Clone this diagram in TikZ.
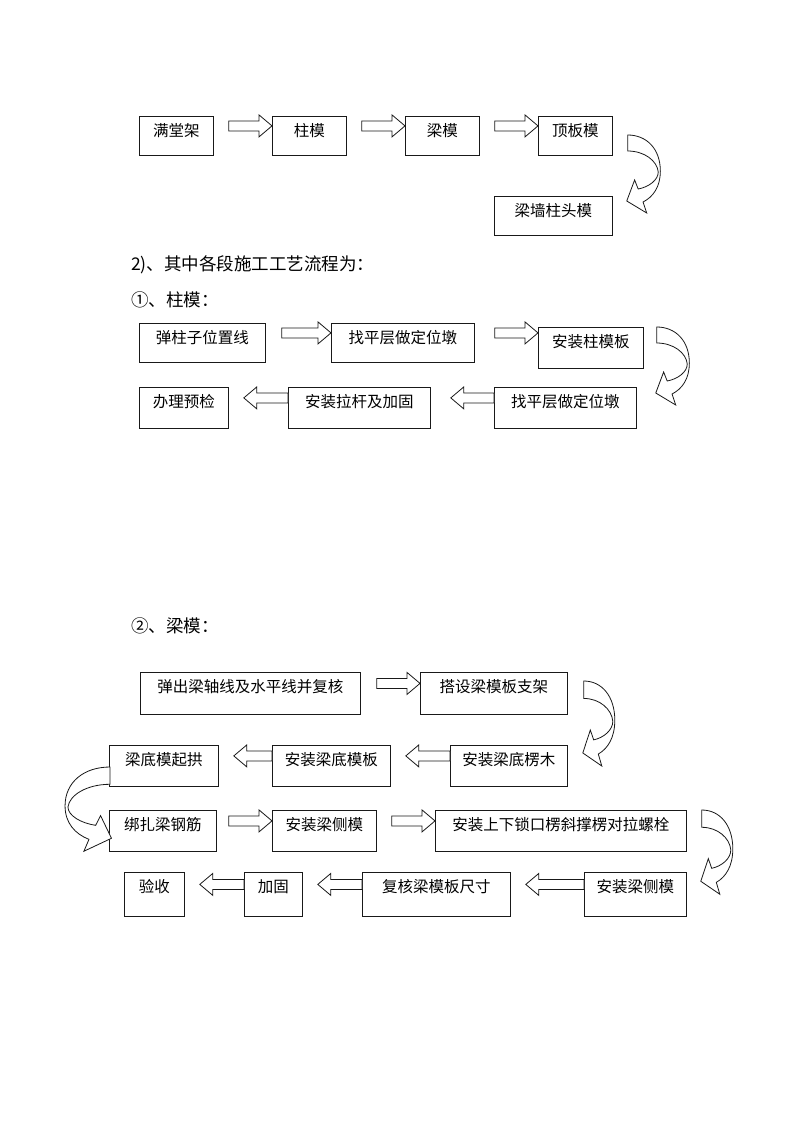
\documentclass[tikz,border=0pt]{standalone}
\usepackage{fontspec}
\newfontfamily\cjk{Noto Sans CJK SC}
\usepackage{tikz}
\usetikzlibrary{calc}

% hollow block arrow, tail #1 after #2, tip on #3
\newcommand{\rarrow}[3][15]{%
  \coordinate (s) at ($(#2.east)+(#1,-10)$);
  \coordinate (e) at (s -| #3.west);
  \draw[blockarrow] ($(s)+(0,-5)$) -- ($(e)+(-13,-5)$) -- ($(e)+(-13,-11)$) -- (e)
    -- ($(e)+(-13,11)$) -- ($(e)+(-13,5)$) -- ($(s)+(0,5)$) -- cycle;}
% same to the left, tail on #2, tip #1 before #3
\newcommand{\larrow}[3][15]{%
  \coordinate (s) at ($(#2.west)+(0,-10)$);
  \coordinate (e) at ($(s -| #3.east)+(#1,0)$);
  \draw[blockarrow] ($(s)+(0,-5)$) -- ($(e)+(13,-5)$) -- ($(e)+(13,-11)$) -- (e)
    -- ($(e)+(13,11)$) -- ($(e)+(13,5)$) -- ($(s)+(0,5)$) -- cycle;}

\begin{document}
\begin{tikzpicture}[x=1pt, y=-1pt,
    box/.style={draw=black!90, line width=0.8pt, anchor=north west, inner sep=0pt,
                font=\cjk\fontsize{15.5}{18}\selectfont, text height=20pt, text depth=#1},
    box/.default=19pt,
    head/.style={anchor=west, inner sep=0pt, font=\cjk\fontsize{17.5}{20}\selectfont},
    blockarrow/.style={draw=black!90, line width=0.8pt, fill=white, line join=miter},
    bendarrow/.pic={
      \draw[blockarrow] (0,0) .. controls (18,0) and (31,14) .. (31,36)
        .. controls (31,52) and (24,62) .. (14.5,67)
        -- (18,78) -- (-1,66) -- (6.5,45) -- (9.9,54)
        .. controls (20,52) and (29,45) .. (29,37)
        .. controls (28,26) and (16,16) .. (0,16) -- cycle;
    },
  ]
  \useasboundingbox[fill=white] (0,0) rectangle (800,1132);

  % overall order
  \node[box, minimum width=74pt] (a1) at (139,116) {满堂架};
  \node[box, minimum width=74pt] (a2) at (272,116) {柱模};
  \node[box, minimum width=74pt] (a3) at (405,116) {梁模};
  \node[box, minimum width=74pt] (a4) at (538,116) {顶板模};
  \node[box, minimum width=118pt] (a5) at (494,196) {梁墙柱头模};
  \rarrow{a1}{a2}
  \rarrow{a2}{a3}
  \rarrow{a3}{a4}
  \pic[xscale=1.05] at ($(a4.north east)+(15,19)$) {bendarrow};

  \node[head] (h1) at (131,265) {2)、其中各段施工工艺流程为：};
  \node[head] (h2) at (131,300) {①、柱模：};

  % column forms
  \node[box, minimum width=126pt] (b1) at (139,323) {弹柱子位置线};
  \node[box, minimum width=143pt] (b2) at (331,323) {找平层做定位墩};
  \node[box=21pt, minimum width=105pt] (b3) at (538,327) {安装柱模板};
  \node[box=21pt, minimum width=142pt] (b4) at (494,387) {找平层做定位墩};
  \node[box=21pt, minimum width=142pt] (b5) at (288,387) {安装拉杆及加固};
  \node[box=21pt, minimum width=89pt] (b6) at (139,387) {办理预检};
  \rarrow[16]{b1}{b2}
  \rarrow[20]{b2}{b3}
  \pic[xscale=1.05] at ($(b3.north east)+(13,0)$) {bendarrow};
  \larrow[20]{b4}{b5}
  \larrow{b5}{b6}

  \node[head] (h3) at (131,626) {②、梁模：};

  % beam forms
  \node[box=22pt, minimum width=220pt] (c1) at (140,672) {弹出梁轴线及水平线并复核};
  \node[box=22pt, minimum width=147pt] (c2) at (420,672) {搭设梁模板支架};
  \node[box=21pt, minimum width=117pt] (d3) at (450,745) {安装梁底楞木};
  \node[box=21pt, minimum width=118pt] (d2) at (272,745) {安装梁底模板};
  \node[box=21pt, minimum width=109pt] (d1) at (109,745) {梁底模起拱};
  \node[box=21pt, minimum width=107pt] (e1) at (109,810) {绑扎梁钢筋};
  \node[box=21pt, minimum width=104pt] (e2) at (272,810) {安装梁侧模};
  \node[box=21pt, minimum width=251pt] (e3) at (435,810) {安装上下锁口楞斜撑楞对拉螺栓};
  \node[box=24pt, minimum width=102pt] (f4) at (584,872) {安装梁侧模};
  \node[box=24pt, minimum width=148pt] (f3) at (362,872) {复核梁模板尺寸};
  \node[box=24pt, minimum width=58pt] (f2) at (244,872) {加固};
  \node[box=24pt, minimum width=60pt] (f1) at (124,872) {验收};
  \rarrow[16]{c1}{c2}
  \pic[yscale=1.09] at ($(c2.north east)+(16,9)$) {bendarrow};
  \larrow{d3}{d2}
  \larrow{d2}{d1}
  \pic[xscale=-1.45, yscale=1.08] at ($(d1.north west)+(1,22)$) {bendarrow};
  \rarrow[12]{e1}{e2}
  \rarrow{e2}{e3}
  \pic[yscale=1.08] at ($(e3.north east)+(15,0)$) {bendarrow};
  \larrow{f4}{f3}
  \larrow{f3}{f2}
  \larrow{f2}{f1}
\end{tikzpicture}
\end{document}
